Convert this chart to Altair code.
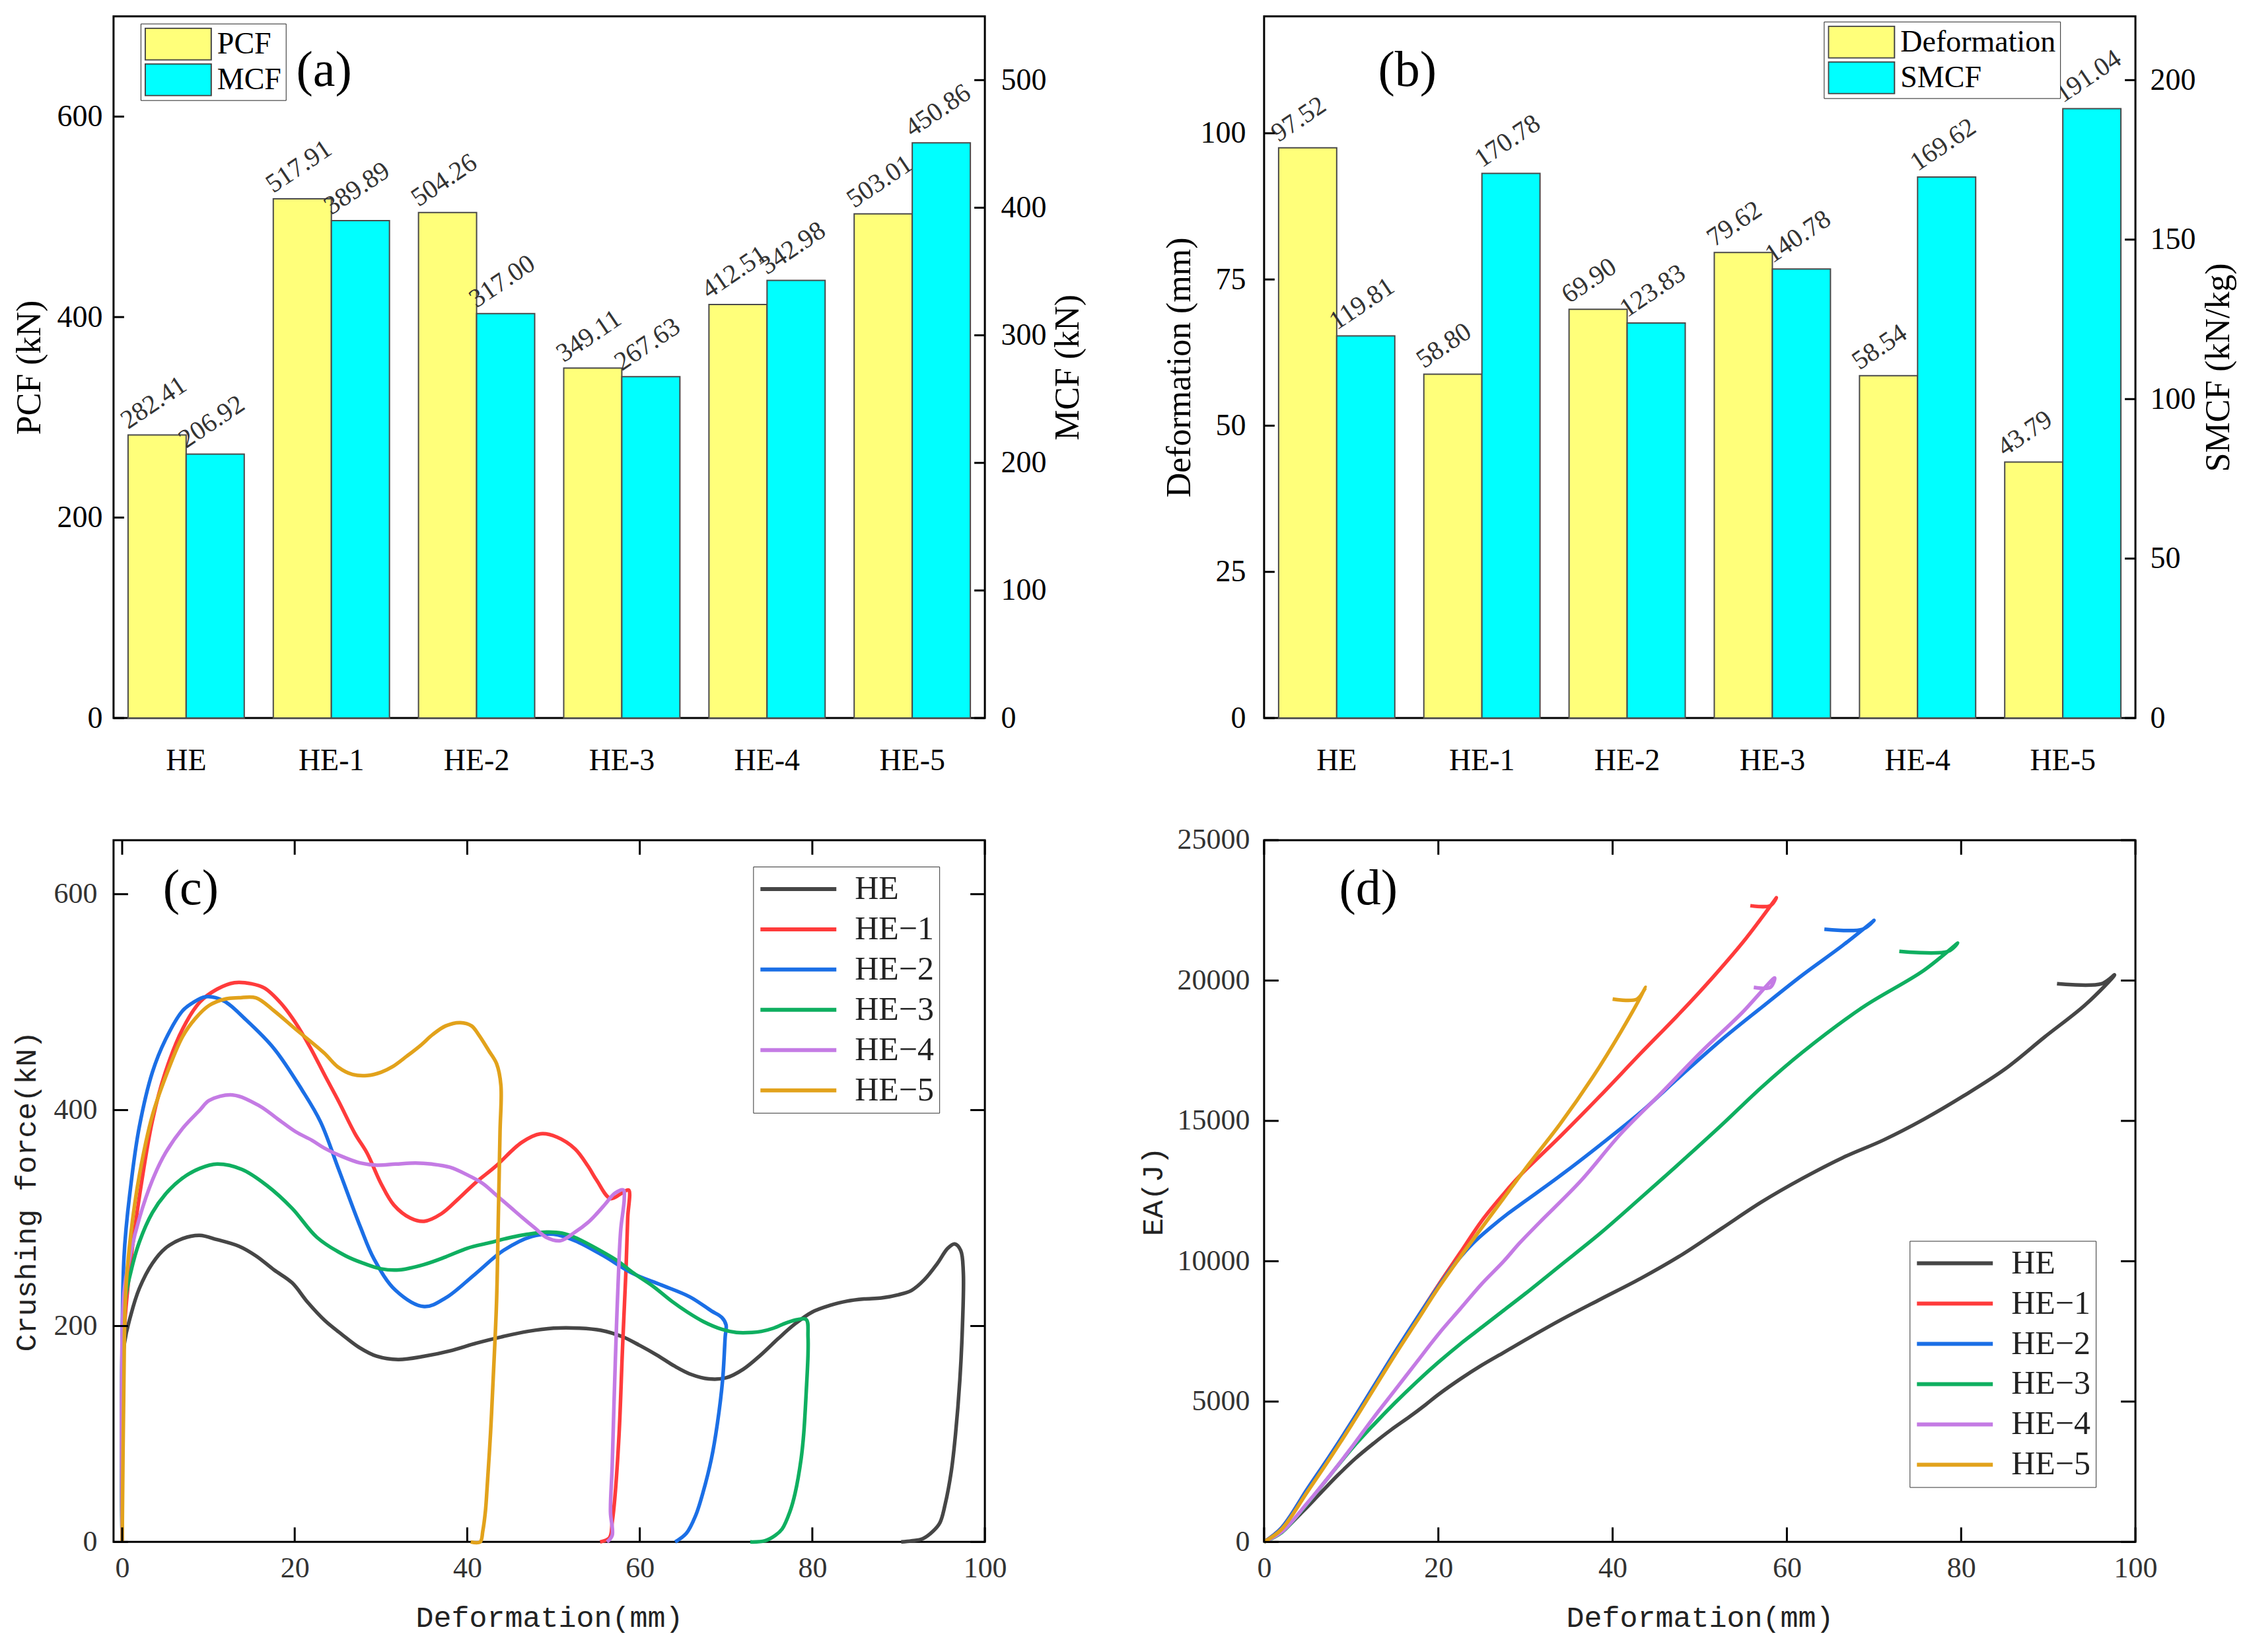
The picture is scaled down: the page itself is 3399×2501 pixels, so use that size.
import altair as alt
import pandas as pd

# ---------------- data ----------------
categories = ["HE", "HE-1", "HE-2", "HE-3", "HE-4", "HE-5"]
pcf = [282.41, 517.91, 504.26, 349.11, 412.51, 503.01]
mcf = [206.92, 389.89, 317.00, 267.63, 342.98, 450.86]
deformation = [97.52, 58.80, 69.90, 79.62, 58.54, 43.79]
smcf = [119.81, 170.78, 123.83, 140.78, 169.62, 191.04]

line_colors = ["#464646", "#FF3B3B", "#1B6FE6", "#0FAF60", "#C47BE4", "#E2A21B"]
bar_yellow = "#FFFF7A"
bar_cyan = "#00FFFF"

# (c) crushing force vs deformation
c_he_x = [0, 0.2, 1, 2, 3.5, 5, 7, 9, 11, 13.5, 15.5, 17.6, 19.7, 21.5, 23.5, 25.5, 27.5, 29.5, 32, 35,
          38, 41, 44, 47, 50, 53, 55.5, 58, 60, 62, 64, 66, 68, 70, 72, 74, 76, 78, 80, 82,
          84, 86, 88, 90, 91.5, 93, 94.5, 95.7, 96.5, 97.2, 97.5, 97.4, 97.1, 96.6, 96.1, 95.4, 94.8, 94.0, 92.8, 91.5, 90.3]
c_he_y = [0, 180, 210, 235, 258, 272, 281, 284, 280, 274, 265, 252, 240, 222, 205, 192, 180, 172, 169, 172,
          177, 184, 190, 195, 198, 198, 196, 190, 182, 173, 163, 155, 151, 152, 160, 173, 188, 202, 213, 219,
          223, 225, 226, 229, 233, 243, 258, 272, 276, 270, 250, 200, 150, 100, 65, 35, 18, 10, 3, 1, 0]
c_he1_x = [0, 0.2, 1, 2, 3.5, 5, 7, 9, 11, 13, 15, 16.5, 18.4, 20, 21.8, 23.5, 25.1, 27, 28.4, 30,
           31.5, 33.4, 35, 37, 39, 41, 43.3, 46.3, 48.5, 50.4, 52.5, 54, 55, 56.6, 57.9, 58.7, 58.6, 58.4, 58, 57.6,
           57.1, 56.8, 56.5, 55.4]
c_he1_y = [0, 190, 260, 320, 390, 435, 475, 500, 512, 518, 517, 513, 499, 482, 458, 432, 408, 378, 360, 332,
           312, 300, 297, 304, 318, 333, 348, 370, 378, 375, 364, 348, 335, 318, 323, 326, 300, 252, 180, 100,
           40, 18, 4, 0]
c_he2_x = [0, 0.2, 1, 2, 3.5, 5, 7, 8.1, 9.7, 11.8, 14.3, 17.6, 20.9, 23, 25.1, 27.6, 29.2, 31.7, 35, 37.5,
           40.9, 44.2, 47.5, 50, 52.5, 55.8, 59.1, 62.5, 65.8, 68.3, 69.5, 70, 69.9, 69.6, 69, 68.3, 67.3, 66.5, 65.4, 64.1]
c_he2_y = [0, 262, 330, 385, 435, 465, 492, 499, 505, 501, 484, 457, 418, 389, 345, 292, 262, 233, 218, 226,
           248, 270, 283, 285, 279, 265, 249, 238, 227, 214, 208, 201, 190, 150, 110, 77, 45, 25, 8, 0]
c_he3_x = [0, 0.2, 1, 2, 3.5, 5, 7, 9, 11, 13.9, 16.8, 19.7, 22.6, 25.9, 28, 30, 32.1, 35, 37.5, 40,
           42.5, 45, 47, 49.2, 51, 52.5, 55.4, 57.5, 59.1, 61.5, 63.7, 65.5, 67.4, 69.5, 71.2, 73, 74.1, 75.5, 77, 78.3,
           79.3, 79.5, 79.5, 79.3, 79, 78.7, 78, 77.4, 76.5, 75.7, 74.5, 72.8]
c_he3_y = [0, 215, 250, 278, 305, 322, 337, 346, 350, 345, 330, 309, 282, 265, 258, 253, 252, 257, 264, 272,
           277, 282, 285, 287, 286, 282, 270, 260, 250, 237, 223, 213, 204, 197, 194, 194, 195, 198, 203, 206,
           206, 190, 174, 140, 100, 77, 45, 28, 12, 6, 1, 0]
c_he4_x = [0, 0.2, 1, 2, 3.5, 5, 7, 9, 10.1, 12.8, 15.9, 18, 20.1, 22, 23.4, 25.5, 27.6, 29.5, 31.7, 34,
           35.9, 38, 40, 41.8, 43.4, 45, 46.3, 47.8, 49.2, 50.8, 52.5, 54, 55, 56, 57.1, 58.1, 58.2, 57.8, 57.6, 57.3,
           57, 56.8, 56.6, 56.8, 56.2]
c_he4_y = [0, 230, 268, 300, 335, 360, 383, 400, 409, 414, 404, 392, 380, 372, 365, 357, 351, 349, 350, 351,
           350, 347, 340, 332, 321, 310, 301, 291, 282, 279, 287, 296, 304, 313, 323, 326, 318, 290, 262, 200,
           125, 70, 28, 6, 0]
c_he5_x = [0, 0.2, 0.4, 1, 2, 3.5, 5, 7, 8.5, 10.1, 12, 13.5, 15.5, 17.6, 20.1, 23.4, 25, 26.7, 28.4, 30,
           31.3, 33, 34.6, 36, 37.5, 39.2, 40.5, 41.3, 42.5, 43.4, 43.9, 43.8, 43.6, 43.4, 43, 42.7, 42.3, 42.1, 41.8, 41.5,
           40.4]
c_he5_y = [0, 150, 230, 285, 340, 395, 430, 468, 485, 497, 503, 504, 504, 492, 475, 453, 440, 433, 432, 435,
           440, 450, 460, 470, 478, 481, 478, 470, 455, 443, 423, 380, 300, 223, 150, 101, 50, 28, 10, 0,
           0]

# (d) energy absorption vs deformation
d_he_x = [0, 2, 4.4, 6.5, 8.5, 10.5, 12.6, 14.6, 16.7, 18.5, 20, 22.5, 25, 27.5, 30, 34, 38.6, 43.2, 47.9, 52.5,
          57.1, 61.8, 66.4, 71.1, 75.7, 80.3, 85, 89.6, 94.3, 97.6, 96.1, 91]
d_he_y = [0, 350, 1070, 1750, 2390, 2980, 3520, 4000, 4460, 4880, 5250, 5800, 6300, 6750, 7200, 7900, 8646, 9382, 10221, 11166,
          12112, 12953, 13688, 14319, 15054, 15894, 16838, 17993, 19150, 20200, 19885, 19885]
d_he1_x = [0, 2, 5, 7.5, 10, 12.5, 15, 17.5, 20, 22.5, 25, 27.5, 29.3, 34, 38.6, 43.2, 47.9, 51.6, 55.3, 58.8,
           58.1, 55.8]
d_he1_y = [0, 500, 1900, 3050, 4250, 5500, 6750, 7950, 9150, 10300, 11450, 12400, 13030, 14450, 15900, 17400, 18900, 20150, 21500, 22951,
           22667, 22667]
d_he2_x = [0, 2, 5, 7.5, 10, 12.5, 15, 17.5, 20, 22, 24, 26, 28, 30, 34, 38.6, 43.2, 47.9, 52.5, 57.1,
           61.8, 66.4, 70, 68.7, 64.3]
d_he2_y = [0, 500, 1900, 3050, 4250, 5500, 6750, 7950, 9100, 9950, 10650, 11200, 11700, 12150, 13050, 14150, 15300, 16629, 17890, 19045,
           20200, 21249, 22143, 21828, 21828]
d_he3_x = [0, 2, 4.4, 7, 10, 12.5, 15, 17.5, 20, 22.5, 25, 27.5, 30, 34, 38.6, 43.2, 47.9, 52.5, 57.1, 61.8,
           68.7, 75.7, 79.6, 78.5, 72.9]
d_he3_y = [0, 330, 1150, 2150, 3300, 4150, 4950, 5700, 6400, 7050, 7650, 8250, 8850, 9850, 11000, 12250, 13550, 14850, 16200, 17450,
           19045, 20357, 21333, 21040, 21040]
d_he4_x = [0, 2, 5, 7.5, 10, 12.5, 15, 17.5, 20, 22.5, 25, 27.5, 29.3, 31.6, 36.3, 40.9, 45.6, 50.2, 54.8, 58.6,
           58.1, 56.2]
d_he4_y = [0, 350, 1400, 2350, 3350, 4400, 5400, 6400, 7400, 8300, 9200, 10000, 10641, 11378, 12847, 14528, 15998, 17469, 18834, 20094,
           19758, 19758]
d_he5_x = [0, 2, 5, 7.5, 10, 12.5, 15, 17.5, 20, 22.5, 25, 27.5, 30, 34, 37.7, 40.9, 43.8, 42.8, 40.0]
d_he5_y = [0, 450, 1800, 2950, 4150, 5400, 6650, 7850, 9050, 10150, 11200, 12250, 13300, 14900, 16550, 18150, 19758, 19338, 19338]

# ---------------- styling constants ----------------
SERIF = "Liberation Serif"
MONO = "Liberation Mono"
W = 1320
H = 1063
TICK = 16
TICK2 = 22
LABEL_ANGLE = 326
# screen offset of the rotated bar labels (to the bar's left edge, a little above its top),
# converted into the text's rotated frame
HALF_BAR = W / 6 * 0.8 / 4
_cos, _sin = 0.829, -0.559
LBL_DX = _cos * (-HALF_BAR) + _sin * (-8)
LBL_DY = -_sin * (-HALF_BAR) + _cos * (-8)


def curves_df(xs, ys):
    rows = []
    for name, x_list, y_list in zip(categories, xs, ys):
        for i, (xv, yv) in enumerate(zip(x_list, y_list)):
            rows.append({"spec": name, "i": i, "x": xv, "y": yv})
    return pd.DataFrame(rows)


def rule_df(col, vals):
    return pd.DataFrame({col: vals})


def bar_panel(vals1, vals2, name1, name2, dom1, dom2, vals_ax1, vals_ax2, title1, title2,
              leg_x, leg_y, tag, tag_x, tag_y, ax1_pad, ax1_ext, ax1_tpad,
              ax2_pad, ax2_ext, ax2_tpad, key):
    sfield = "ser_" + key
    df = pd.DataFrame({
        "cat": categories * 2,
        sfield: [name1] * len(categories) + [name2] * len(categories),
        "val": list(vals1) + list(vals2),
    })
    x_enc = alt.X("cat:N", sort=categories,
                  scale=alt.Scale(paddingInner=0.2, paddingOuter=0.1),
                  axis=alt.Axis(title=None, labelFont=SERIF, labelFontSize=46, labelColor="black",
                                labelPadding=42, ticks=False, domain=False, labelAngle=0, grid=False))
    xoff = alt.XOffset(sfield + ":N",
                       scale=alt.Scale(domain=[name1, name2], paddingInner=0, paddingOuter=0))
    legend = alt.Legend(title=None, orient="none", legendX=leg_x, legendY=leg_y,
                        symbolType="M-1,-0.48H1V0.48H-1Z", symbolSize=10000, clipHeight=50,
                        rowPadding=4, labelFont=SERIF, labelFontSize=46, labelColor="black",
                        labelOffset=8, padding=6, strokeColor="#222", fillColor="white",
                        symbolStrokeColor="#444", symbolStrokeWidth=2, symbolOpacity=1,
                        labelLimit=500)
    color = alt.Color(sfield + ":N", scale=alt.Scale(domain=[name1, name2], range=[bar_yellow, bar_cyan]),
                      legend=legend)

    ax1 = alt.Axis(orient="left", values=vals_ax1, title=title1, titleFont=SERIF, titleFontSize=52,
                   titleFontWeight="normal", titleColor="black", labelFont=SERIF, labelFontSize=46,
                   labelColor="black", labelPadding=ax1_pad, ticks=False, domain=False, grid=False,
                   minExtent=ax1_ext, maxExtent=ax1_ext, titlePadding=ax1_tpad, labelFlush=False)
    ax2 = alt.Axis(orient="right", values=vals_ax2, title=title2, titleFont=SERIF, titleFontSize=52,
                   titleFontWeight="normal", titleColor="black", titleAngle=270, titleBaseline="top",
                   labelFont=SERIF, labelFontSize=46, labelColor="black", labelPadding=ax2_pad,
                   ticks=False, domain=False, grid=False, minExtent=ax2_ext, maxExtent=ax2_ext,
                   titlePadding=ax2_tpad, labelFlush=False)
    y1 = alt.Y("val:Q", scale=alt.Scale(domain=dom1, nice=False, zero=True), axis=ax1)
    y2 = alt.Y("val:Q", scale=alt.Scale(domain=dom2, nice=False, zero=True), axis=ax2)

    base = alt.Chart(df)
    f1 = alt.FieldEqualPredicate(field=sfield, equal=name1)
    f2 = alt.FieldEqualPredicate(field=sfield, equal=name2)
    text_style = dict(align="left", baseline="alphabetic", angle=LABEL_ANGLE, dx=LBL_DX, dy=LBL_DY,
                      font=SERIF, fontSize=40, color="#333333")
    bars1 = base.transform_filter(f1).mark_bar(
        stroke="#4a4a4a", strokeWidth=2).encode(x=x_enc, xOffset=xoff, y=y1, color=color)
    text1 = base.transform_filter(f1).mark_text(**text_style).encode(
        x=x_enc, xOffset=xoff, y=y1, text=alt.Text("val:Q", format=".2f"))
    ticks1 = alt.Chart(rule_df("val", vals_ax1)).mark_rule(color="black", strokeWidth=3).encode(
        y=y1, x=alt.value(0), x2=alt.value(TICK))
    tag_layer = alt.Chart(pd.DataFrame({"t": [tag]})).mark_text(
        font=SERIF, fontSize=76, align="center", baseline="middle", color="black").encode(
        text="t:N", x=alt.value(tag_x), y=alt.value(tag_y))
    bars2 = base.transform_filter(f2).mark_bar(
        stroke="#4a4a4a", strokeWidth=2).encode(x=x_enc, xOffset=xoff, y=y2, color=color)
    text2 = base.transform_filter(f2).mark_text(**text_style).encode(
        x=x_enc, xOffset=xoff, y=y2, text=alt.Text("val:Q", format=".2f"))
    ticks2 = alt.Chart(rule_df("val", vals_ax2)).mark_rule(color="black", strokeWidth=3).encode(
        y=y2, x=alt.value(W - TICK), x2=alt.value(W))

    left = alt.layer(bars1, text1, ticks1, tag_layer)
    right = alt.layer(bars2, text2, ticks2)
    return alt.layer(left, right).resolve_scale(y="independent").properties(width=W, height=H)


def line_panel(xs, ys, xdom, ydom, xvals, yvals, ytitle, yfmt, leg_x, leg_y,
               tag, tag_x, tag_y, ypad, yext, ytpad, key):
    df = curves_df(xs, ys)
    sfield = "spec_" + key
    df = df.rename(columns={"spec": sfield})
    ax_x = alt.Axis(values=xvals, title="Deformation(mm)", titleFont=MONO, titleFontSize=45,
                    titleFontWeight="normal", titleColor="#222222", labelFont=SERIF, labelFontSize=44,
                    labelColor="#333333", labelPadding=18, ticks=False, domain=False, grid=False,
                    minExtent=62, maxExtent=62, titlePadding=30, labelFlush=False, labelOverlap=False)
    ax_y = alt.Axis(values=yvals, title=ytitle, titleFont=MONO, titleFontSize=45, format=yfmt,
                    titleFontWeight="normal", titleColor="#222222", labelFont=SERIF, labelFontSize=44,
                    labelColor="#333333", labelPadding=ypad, ticks=False, domain=False, grid=False,
                    minExtent=yext, maxExtent=yext, titlePadding=ytpad, labelFlush=False,
                    labelOverlap=False)
    x_enc = alt.X("x:Q", scale=alt.Scale(domain=xdom, nice=False, zero=False), axis=ax_x)
    y_enc = alt.Y("y:Q", scale=alt.Scale(domain=ydom, nice=False, zero=False), axis=ax_y)
    legend = alt.Legend(title=None, orient="none", legendX=leg_x, legendY=leg_y,
                        symbolType="stroke", symbolSize=115 * 115, symbolStrokeWidth=6,
                        clipHeight=52, rowPadding=9, labelFont=SERIF, labelFontSize=50,
                        labelColor="#222222", labelOffset=25, padding=8, strokeColor="#333333",
                        fillColor="white", labelExpr="replace(datum.label, '-', '\u2212')")
    lines = alt.Chart(df).mark_line(strokeWidth=5.5, interpolate="catmull-rom").encode(
        x=x_enc, y=y_enc,
        color=alt.Color(sfield + ":N", sort=categories,
                        scale=alt.Scale(domain=categories, range=line_colors), legend=legend),
        order=alt.Order("i:Q"))
    tb = alt.Chart(rule_df("x", xvals)).mark_rule(color="black", strokeWidth=3).encode(
        x=x_enc, y=alt.value(H), y2=alt.value(H - TICK2))
    tt = alt.Chart(rule_df("x", xvals)).mark_rule(color="black", strokeWidth=3).encode(
        x=x_enc, y=alt.value(0), y2=alt.value(TICK2))
    tl = alt.Chart(rule_df("y", yvals)).mark_rule(color="black", strokeWidth=3).encode(
        y=y_enc, x=alt.value(0), x2=alt.value(TICK2))
    tr = alt.Chart(rule_df("y", yvals)).mark_rule(color="black", strokeWidth=3).encode(
        y=y_enc, x=alt.value(W - TICK2), x2=alt.value(W))
    tag_layer = alt.Chart(pd.DataFrame({"t": [tag]})).mark_text(
        font=SERIF, fontSize=76, align="center", baseline="middle", color="black").encode(
        text="t:N", x=alt.value(tag_x), y=alt.value(tag_y))
    return alt.layer(lines, tb, tt, tl, tr, tag_layer).properties(width=W, height=H)


panel_a = bar_panel(pcf, mcf, "PCF", "MCF", [0, 700], [0, 550], [0, 200, 400, 600],
                    [0, 100, 200, 300, 400, 500], "PCF (kN)", "MCF (kN)",
                    41, 11, "(a)", 319, 82, 17, 86, 14, 24, 93, 7, "a")
panel_b = bar_panel(deformation, smcf, "Deformation", "SMCF", [0, 120], [0, 220],
                    [0, 25, 50, 75, 100], [0, 50, 100, 150, 200], "Deformation (mm)", "SMCF (kN/kg)",
                    848, 8, "(b)", 217, 82, 28, 97, 4, 22, 91, 9, "b")

panel_c = line_panel([c_he_x, c_he1_x, c_he2_x, c_he3_x, c_he4_x, c_he5_x],
                     [c_he_y, c_he1_y, c_he2_y, c_he3_y, c_he4_y, c_he5_y],
                     [-1, 100], [0, 650], [0, 20, 40, 60, 80, 100], [0, 200, 400, 600],
                     "Crushing force(kN)", "d", 969, 40, "(c)", 117, 74, 25, 91, 18, "c")
panel_d = line_panel([d_he_x, d_he1_x, d_he2_x, d_he3_x, d_he4_x, d_he5_x],
                     [d_he_y, d_he1_y, d_he2_y, d_he3_y, d_he4_y, d_he5_y],
                     [0, 100], [0, 25000], [0, 20, 40, 60, 80, 100],
                     [0, 5000, 10000, 15000, 20000, 25000],
                     "EA(J)", "d", 978, 607, "(d)", 158, 74, 22, 135, 10, "d")

chart = alt.concat(panel_a, panel_b, panel_c, panel_d, columns=2, bounds="flush",
                   spacing=alt.RowColnumber(row=185, column=423)).resolve_scale(
    color="independent", xOffset="independent").configure_view(
    stroke="black", strokeWidth=3).properties(
    padding={"left": 8, "top": 14, "right": 5, "bottom": 5}, background="white")

chart.save("out.html", embed_options={"renderer": "svg", "actions": False})
